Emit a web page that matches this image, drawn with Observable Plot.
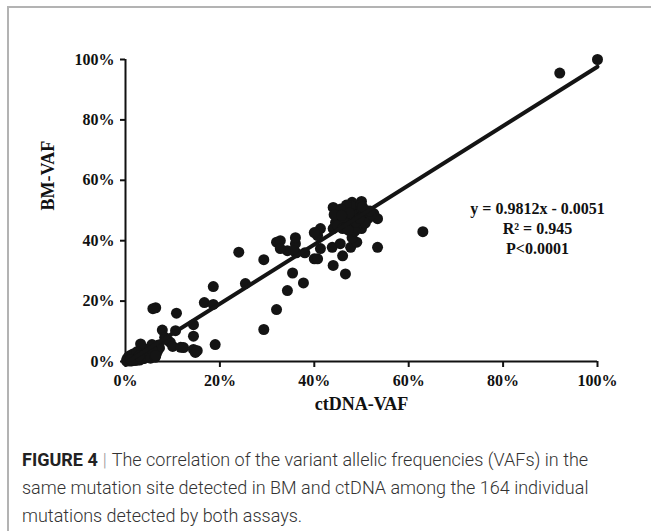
<!DOCTYPE html>
<html>
<head>
<meta charset="utf-8">
<script src="https://cdn.jsdelivr.net/npm/d3@7"></script>
<script src="https://cdn.jsdelivr.net/npm/@observablehq/plot@0.6"></script>
<style>
  html, body { margin: 0; padding: 0; background: #fff; }
  #wrap { position: relative; width: 651px; height: 531px; overflow: hidden; }
  #frame { position: absolute; left: 7px; top: 6px; width: 700px; height: 600px;
           border-top: 2px solid #b3b3b3; border-left: 2px solid #b3b3b3; }
  #chart { position: absolute; left: 0; top: 0; }
  #caption { position: absolute; left: 22px; top: 446px; width: 600px; margin: 0;
             font-family: Roboto, "Liberation Sans", Arial, sans-serif; font-weight: 300; font-size: 18px;
             line-height: 28px; color: #333; }
  #caption .fig { font-weight: bold; color: #222; margin-right: 5px; }
  #caption .bar { color: #999; margin-right: 5px; }
</style>
</head>
<body>
<div id="wrap">
  <div id="frame"></div>
  <div id="chart"></div>
  <p id="caption"><span class="fig">FIGURE 4</span><span class="bar">|</span><span>The correlation of the variant allelic frequencies (VAFs) in the same mutation site detected in BM and ctDNA among the 164 individual mutations detected by both assays.</span></p>
</div>
<script>
// ctDNA VAF (%) — x values
const ctdnaVaf = [
  0.5, 0.8, 1, 1.2, 1.5, 1.8, 2, 2.2, 2.5, 2.8, 3, 3.2, 3.5, 3.8, 4, 4.2, 4.5, 4.8, 5, 5.2,
  5.5, 6, 6.2, 6.5, 7, 7.2, 0.3, 1, 2, 3, 0.6, 1.6, 3.2, 4, 5.8, 6.8, 2.4, 1.3, 4.6, 5.6,
  0.2, 0.9, 1.7, 2.6, 3.4, 4.4, 5.3, 6.3, 1.1, 2.9,
  6.4, 5.8, 10.8, 18.6, 16.7, 18.6, 14.4, 14.4, 7.8, 10.6, 8.3, 9, 9.5, 8.5, 10, 11.7, 12.3, 14.4, 14.8, 15.2,
  19, 6.8, 5.7, 6.4,
  24, 25.4, 29.3, 29.3, 32, 32, 34.3, 34.3, 35.4, 36, 36.2, 35.6, 36, 37.7, 38, 40, 40.7, 41.3, 40, 41.3,
  40.7, 32.8, 32.8,
  43.8, 44, 44, 44, 45.5, 46, 46.6, 47.7, 49, 48, 50, 53.4, 52.6, 53.4, 50, 48, 63,
  44.5, 45, 45.5, 46, 46, 46.5, 47, 47, 47.5, 47.5, 48, 48, 48.5, 48.5, 49, 49, 49.5, 49.5, 50, 50,
  50.5, 50.5, 51, 51, 51.5, 52, 45, 46, 47, 48, 49, 47.8, 46.8, 45.6, 49.8, 51.8, 44.2, 48.6, 47.2, 50.8,
  46.2, 47.4, 48.8, 49.6, 50.2, 45.8,
  92, 100
];
// BM VAF (%) — y values
const bmVaf = [
  0.3, 0.5, 1, 0.4, 1.5, 0.8, 2, 1, 0.5, 2.5, 1.5, 3, 2, 1, 3.5, 2.5, 4, 3, 2, 4.5,
  3.5, 5, 4, 2.5, 5.5, 4.5, 0.8, 2, 0.3, 0.5, 1.5, 2.5, 5.8, 1, 3, 3.5, 3.2, 0.2, 1.8, 5.6,
  0.1, 0.2, 0.6, 1.2, 0.9, 1.6, 1.1, 1.4, 0.7, 1.9,
  17.8, 17.5, 16, 24.8, 19.5, 18.9, 12.2, 8.4, 10.4, 10.2, 8, 7, 6.3, 7.5, 5, 4.7, 4.6, 4, 3, 3.6,
  5.6, 4.3, 3.6, 2,
  36.2, 25.8, 33.7, 10.6, 17.2, 39.5, 36.7, 23.5, 29.3, 39, 36, 36.7, 41, 26, 36, 34, 41.7, 44, 42.7, 37.4,
  34, 40, 37.4,
  37.8, 31.8, 44, 51, 39, 35, 29, 37.8, 39.5, 41, 44, 37.8, 49, 47.3, 53, 52.7, 43,
  46, 47.5, 48, 46.5, 49, 50, 47, 48.5, 50.5, 46, 48, 49.5, 47, 51, 48, 50, 46.5, 49, 48, 50.5,
  47, 49.5, 48.5, 50, 47.5, 48.5, 45, 44, 45, 44.5, 45, 51.5, 51.8, 50.5, 51.8, 49.8, 48.6, 43.2, 43.5, 45.8,
  47.8, 49.2, 46.2, 47.4, 51.2, 48.4,
  95.5, 100
];
// Regression line shown on the chart
const fitSlope = [0.9812];
const fitIntercept = [-0.0051];
const fitLabel = ["y = 0.9812x - 0.0051", "R² = 0.945", "P<0.0001"];
// Axis ticks
const xTicks = [0, 0.2, 0.4, 0.6, 0.8, 1];
const yTicks = [0, 0.2, 0.4, 0.6, 0.8, 1];
const xTitle = "ctDNA-VAF";
const yTitle = "BM-VAF";

const points = ctdnaVaf.map((x, i) => ({x: x / 100, y: bmVaf[i] / 100}));
const xs = points.map(d => d.x).filter(x => x * fitSlope[0] + fitIntercept[0] >= 0);
const fitLine = [d3.min(xs), d3.max(xs)].map(x => ({x, y: fitSlope[0] * x + fitIntercept[0]}));
const pct = d3.format(".0%");

const chart = Plot.plot({
  width: 651,
  height: 420,
  marginLeft: 125,
  marginRight: 54,
  marginTop: 59,
  marginBottom: 59,
  style: {fontFamily: "'Liberation Serif', 'Times New Roman', serif", background: "transparent", color: "#111"},
  x: {domain: [0, 1]},
  y: {domain: [0, 1]},
  marks: [
    Plot.axisX({ticks: xTicks, tickFormat: pct, tickSize: 6, tickPadding: 7, fontSize: 16, fontWeight: "bold", strokeWidth: 2, label: null}),
    Plot.axisY({ticks: yTicks, tickFormat: pct, tickSize: 5, tickPadding: 6, fontSize: 16, fontWeight: "bold", strokeWidth: 2, label: null}),
    Plot.ruleY([0], {strokeWidth: 2, stroke: "#111"}),
    Plot.ruleX([0], {strokeWidth: 2, stroke: "#111"}),
    Plot.dot(points, {x: "x", y: "y", r: 5.5, fill: "#141414", stroke: "none"}),
    Plot.line(fitLine, {x: "x", y: "y", stroke: "#141414", strokeWidth: 4}),
    Plot.text([fitLabel.join("\n")], {frameAnchor: "right", dx: -60, dy: 17, textAnchor: "middle", lineAnchor: "middle", lineHeight: 1.25, fontSize: 16, fontWeight: "bold", fill: "#111"}),
    Plot.text([xTitle], {frameAnchor: "bottom", dy: 48, fontSize: 18, fontWeight: "bold", fill: "#111"}),
    Plot.text([yTitle], {frameAnchor: "left", dx: -77, rotate: -90, fontSize: 18, fontWeight: "bold", fill: "#111"})
  ]
});
document.getElementById("chart").appendChild(chart);
</script>
</body>
</html>
